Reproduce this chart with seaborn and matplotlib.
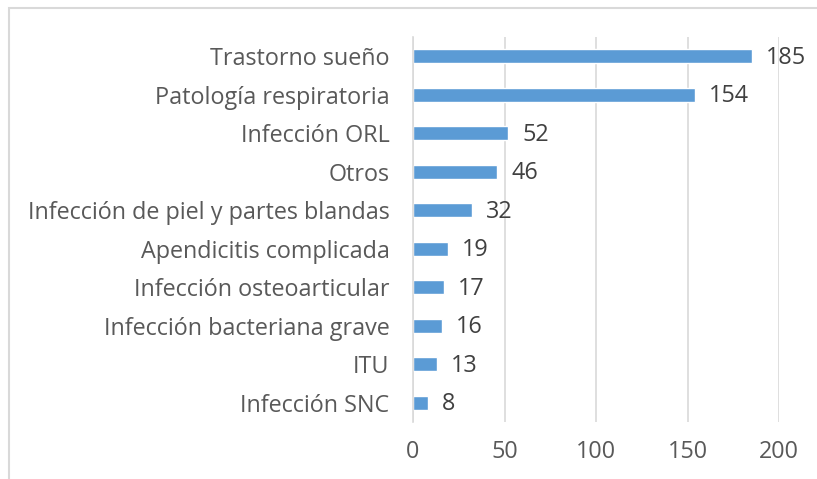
import pandas as pd
import matplotlib.pyplot as plt
import seaborn as sns
from matplotlib.patches import Rectangle

# Chart data
categories = [
    'Trastorno sueño',
    'Patología respiratoria',
    'Infección ORL',
    'Otros',
    'Infección de piel y partes blandas',
    'Apendicitis complicada',
    'Infección osteoarticular',
    'Infección bacteriana grave',
    'ITU',
    'Infección SNC',
]
counts = [185, 154, 52, 46, 32, 19, 17, 16, 13, 8]
x_ticks = [0, 50, 100, 150, 200]

df = pd.DataFrame({'categoria': categories, 'n': counts})

sns.set_theme(style='white')
plt.rcParams['font.family'] = ['Open Sans', 'DejaVu Sans']

W, H = 817, 479
fig = plt.figure(figsize=(W / 100, H / 100), dpi=100)
ax = fig.add_axes([413 / W, 1 - 422 / H, (779 - 413) / W, (422 - 37) / H])

sns.barplot(data=df, x='n', y='categoria', color='#5B9BD5', saturation=1,
            width=0.37, orient='h', ax=ax)

fs = 16.8
ax.set_xlim(0, 200)
ax.set_xticks(x_ticks)
ax.xaxis.grid(True, color='#D9D9D9', linewidth=1.2)
ax.set_axisbelow(True)
ax.set_xlabel('')
ax.set_ylabel('')
for s in ['top', 'right', 'bottom']:
    ax.spines[s].set_visible(False)
ax.spines['left'].set_color('#D9D9D9')
ax.spines['left'].set_linewidth(1.2)
ax.tick_params(axis='both', length=0, labelsize=fs, colors='#595959')
ax.tick_params(axis='y', pad=17)
ax.tick_params(axis='x', pad=13)

for i, v in enumerate(counts):
    ax.annotate(str(v), (v, i), xytext=(10, -1), textcoords='offset points',
                va='center', ha='left', fontsize=fs, color='#404040')

# chart-area border
fig.patches.append(Rectangle((9 / W, -0.1), 1.2, 1 - 8 / H + 0.1,
                             transform=fig.transFigure, fill=False,
                             edgecolor='#D9D9D9', linewidth=1.5))

fig.savefig('out.png', dpi=100)
